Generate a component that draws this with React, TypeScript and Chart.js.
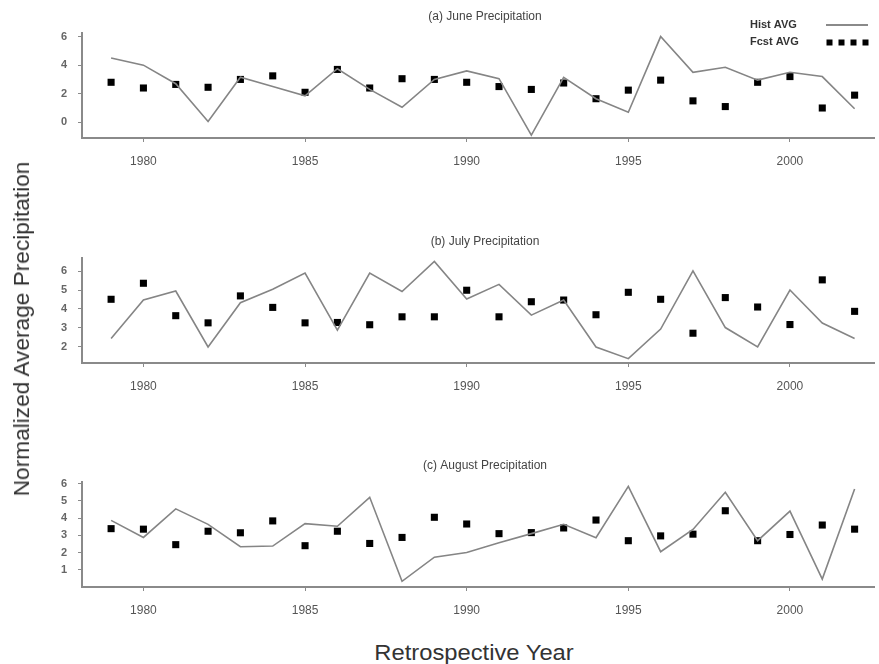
import React, { useEffect, useRef } from "react";
import { Chart, registerables } from "chart.js";

Chart.register(...registerables);

const years = [1979, 1980, 1981, 1982, 1983, 1984, 1985, 1986, 1987, 1988, 1989, 1990, 1991, 1992, 1993, 1994, 1995, 1996, 1997, 1998, 1999, 2000, 2001, 2002];
const xTickValues = [1980, 1985, 1990, 1995, 2000];

const juneHist = [4.5, 4.0, 2.7, 0.05, 3.15, 2.5, 1.85, 3.75, 2.3, 1.05, 3.0, 3.6, 3.05, -0.9, 3.15, 1.65, 0.7, 6.0, 3.5, 3.85, 2.95, 3.5, 3.2, 0.95];
const juneFcst = [2.8, 2.4, 2.65, 2.45, 3.0, 3.25, 2.1, 3.7, 2.4, 3.05, 3.0, 2.8, 2.5, 2.3, 2.75, 1.65, 2.25, 2.95, 1.5, 1.1, 2.8, 3.2, 1.0, 1.9];
const juneTicks = [0, 2, 4, 6];

const julyHist = [2.43, 4.47, 4.95, 1.98, 4.33, 5.04, 5.9, 2.87, 5.9, 4.92, 6.52, 4.53, 5.3, 3.67, 4.47, 1.98, 1.36, 2.93, 6.02, 3.01, 1.98, 5.0, 3.25, 2.43];
const julyFcst = [4.51, 5.36, 3.64, 3.26, 4.69, 4.08, 3.26, 3.28, 3.16, 3.58, 3.58, 4.99, 3.58, 4.38, 4.47, 3.69, 4.88, 4.51, 2.71, 4.6, 4.1, 3.17, 5.54, 3.87];
const julyTicks = [2, 3, 4, 5, 6];

const augHist = [3.87, 2.88, 4.54, 3.64, 2.34, 2.38, 3.68, 3.53, 5.21, 0.33, 1.73, 2.0, 2.57, 3.1, 3.64, 2.86, 5.85, 2.05, 3.34, 5.5, 2.69, 4.41, 0.46, 5.69];
const augFcst = [3.39, 3.36, 2.46, 3.24, 3.15, 3.84, 2.4, 3.24, 2.53, 2.88, 4.05, 3.66, 3.1, 3.16, 3.43, 3.89, 2.69, 2.97, 3.07, 4.43, 2.69, 3.05, 3.6, 3.36];
const augTicks = [1, 2, 3, 4, 5, 6];

const histLabel = "Hist AVG";
const fcstLabel = "Fcst AVG";

const FONT = "'Liberation Sans', Arial, sans-serif";
const AXIS = "#8a8a8a";

type PanelProps = {
  top: number;
  title: string;
  hist: number[];
  fcst: number[];
  yTicks: number[];
  yMin: number;
  yMax: number;
  legend?: boolean;
};

function Panel({ top, title, hist, fcst, yTicks, yMin, yMax, legend }: PanelProps) {
  const ref = useRef<HTMLCanvasElement | null>(null);
  useEffect(() => {
    if (!ref.current) return;
    const titlePlugin = {
      id: "panelTitle",
      afterDraw(chart: any) {
        const ctx = chart.ctx;
        ctx.save();
        ctx.font = `12px ${FONT}`;
        ctx.fillStyle = "#444";
        ctx.textAlign = "center";
        ctx.textBaseline = "middle";
        ctx.fillText(title, 485, 17);
        if (legend) {
          const ds = chart.data.datasets;
          ctx.font = `bold 11px ${FONT}`;
          ctx.fillStyle = "#333";
          ctx.textAlign = "left";
          ctx.fillText(ds[0].label, 750, 25);
          ctx.fillText(ds[1].label, 750, 42);
          ctx.strokeStyle = "#8a8a8a";
          ctx.lineWidth = 2;
          ctx.beginPath();
          ctx.moveTo(826, 25);
          ctx.lineTo(868, 25);
          ctx.stroke();
          ctx.fillStyle = "#000";
          [829.5, 841.5, 853.5, 865.5].forEach((cx) => {
            ctx.fillRect(cx - 3, 39.5, 6, 6);
          });
        }
        ctx.restore();
      },
    };
    const chart = new Chart(ref.current, {
      type: "scatter",
      data: {
        datasets: [
          {
            label: histLabel,
            data: years.map((y, i) => ({ x: y, y: hist[i] })),
            showLine: true,
            borderColor: "#858585",
            borderWidth: 1.6,
            pointRadius: 0,
            tension: 0,
          },
          {
            label: fcstLabel,
            data: years.map((y, i) => ({ x: y, y: fcst[i] })),
            showLine: false,
            pointStyle: "rect",
            pointRadius: 5,
            backgroundColor: "#000",
            borderWidth: 0,
          },
        ],
      },
      options: {
        animation: false,
        responsive: false,
        maintainAspectRatio: false,
        layout: { padding: { top: 33, left: 0, right: 0, bottom: 0 } },
        plugins: { legend: { display: false }, tooltip: { enabled: false }, title: { display: false } },
        scales: {
          x: {
            type: "linear",
            min: 1978.1,
            max: 2002.6,
            afterFit: (s: any) => {
              s.height = 42;
            },
            afterBuildTicks: (s: any) => {
              s.ticks = xTickValues.map((v) => ({ value: v }));
            },
            ticks: {
              font: { family: FONT, size: 12 },
              color: "#555",
              padding: 12,
              maxRotation: 0,
              callback: (v: any) => String(v),
            },
            grid: { display: true, drawOnChartArea: false, drawTicks: true, tickLength: 4, color: AXIS, lineWidth: 1 },
            border: { display: true, color: AXIS, width: 2 },
          },
          y: {
            type: "linear",
            min: yMin,
            max: yMax,
            afterFit: (s: any) => {
              s.width = 82;
            },
            afterBuildTicks: (s: any) => {
              s.ticks = yTicks.map((v) => ({ value: v }));
            },
            ticks: {
              font: { family: FONT, size: 11, weight: "bold" },
              color: "#666",
              padding: 11,
              callback: (v: any) => String(v),
            },
            grid: { display: true, drawOnChartArea: false, drawTicks: true, tickLength: 4, color: AXIS, lineWidth: 1 },
            border: { display: true, color: AXIS, width: 2 },
          },
        },
      },
      plugins: [titlePlugin],
    } as any);
    return () => chart.destroy();
  }, []);
  return (
    <canvas
      ref={ref}
      width={879}
      height={180}
      style={{ position: "absolute", left: 0, top, width: 879, height: 180 }}
    />
  );
}

export default function App() {
  return (
    <div style={{ position: "absolute", left: 0, top: 0, width: 879, height: 664, background: "#fff", overflow: "hidden", fontFamily: FONT }}>
      <Panel top={0} title="(a) June Precipitation" hist={juneHist} fcst={juneFcst} yTicks={juneTicks} yMin={-1.1} yMax={6.25} legend />
      <Panel top={225} title="(b) July Precipitation" hist={julyHist} fcst={julyFcst} yTicks={julyTicks} yMin={1.13} yMax={6.7} />
      <Panel top={449} title="(c) August Precipitation" hist={augHist} fcst={augFcst} yTicks={augTicks} yMin={0} yMax={6.1} />
      <div
        style={{
          position: "absolute",
          left: 21.5,
          top: 329,
          transform: "translate(-50%, -50%) rotate(-90deg) scaleX(1.03)",
          whiteSpace: "nowrap",
          fontSize: 22,
          color: "#333",
        }}
      >
        Normalized Average Precipitation
      </div>
      <div
        style={{
          position: "absolute",
          left: 473.5,
          top: 653,
          transform: "translate(-50%, -50%) scaleX(1.08)",
          whiteSpace: "nowrap",
          fontSize: 22,
          color: "#333",
        }}
      >
        Retrospective Year
      </div>
    </div>
  );
}
